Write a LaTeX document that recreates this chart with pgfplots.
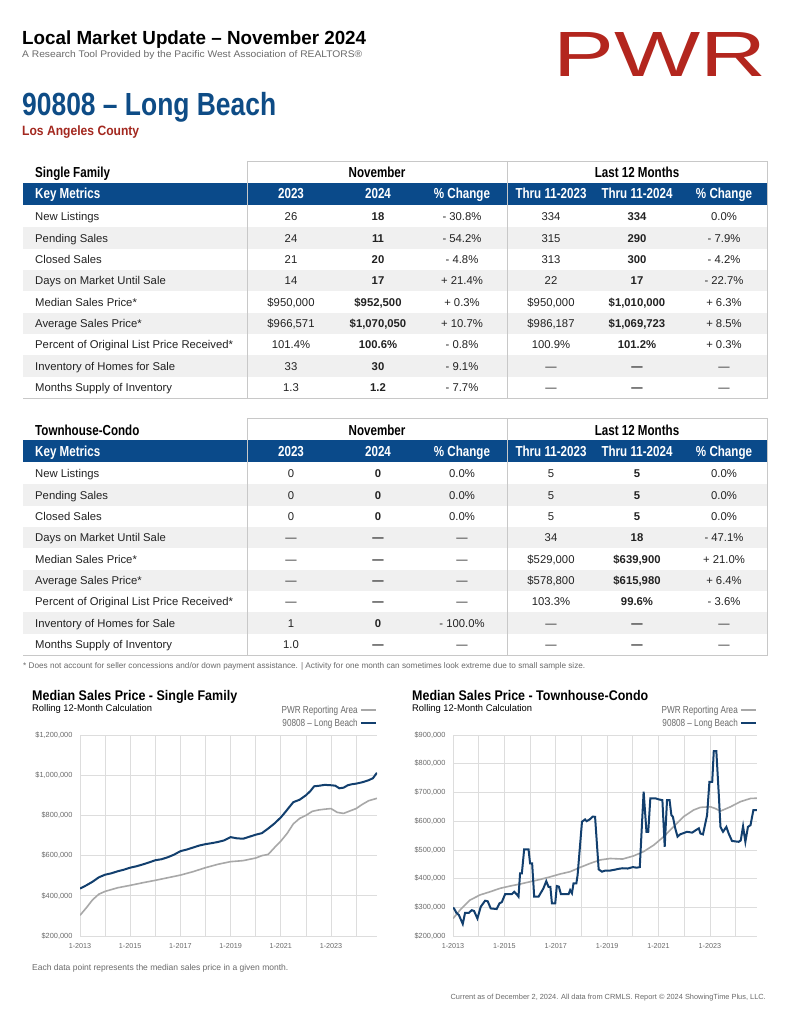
\documentclass[border=0pt]{standalone}
\usepackage{fontspec}
\setmainfont{Liberation Sans}
\newfontfamily\cond[FakeStretch=0.80]{Liberation Sans}
\usepackage{graphicx}
\usepackage{pgfplots}
\pgfplotsset{compat=1.18}
\definecolor{pwrred}{HTML}{B3261E}
\definecolor{lbred}{HTML}{A3281F}
\definecolor{navy}{HTML}{0E4C86}
\definecolor{band}{HTML}{0A4A8A}
\definecolor{rowgray}{HTML}{F0F0F0}
\definecolor{rule}{HTML}{C8C8C8}
\definecolor{gridc}{HTML}{DDDDDD}
\definecolor{lineblue}{HTML}{123F6E}
\definecolor{linegray}{HTML}{A8A8A8}
\definecolor{subgray}{HTML}{6A6A6A}
\definecolor{txt}{HTML}{222222}
\newcommand{\fs}[1]{\fontsize{#1}{#1}\selectfont}
\newcommand{\hfont}{\fs{14.5}\cond\bfseries}
\newcommand{\rfont}{\fs{11.3}}
\newcommand{\tframe}[1]{%
  \fill[band] (23,183) rectangle (767,205);
  \foreach \i in {1,3,5,7} {\fill[rowgray] (23,{206+21.333*\i}) rectangle (767,{206+21.333*(\i+1)});}
  \draw[rule,line width=0.8pt] (247,161) -- (767,161) -- (767,398) -- (23,398);
  \draw[rule,line width=0.8pt] (247,161) -- (247,398) (507,161) -- (507,398);
  \node[anchor=base west,inner sep=0] at (35,178) {\hfont #1};
  \node[anchor=base,inner sep=0] at (377,178) {\hfont November};
  \node[anchor=base,inner sep=0] at (637,178) {\hfont Last 12 Months};
  \node[anchor=base west,inner sep=0,text=white] at (35,199) {\hfont Key Metrics};
  \node[anchor=base,inner sep=0,text=white] at (291,199) {\hfont 2023};
  \node[anchor=base,inner sep=0,text=white] at (378,199) {\hfont 2024};
  \node[anchor=base,inner sep=0,text=white] at (462,199) {\hfont \% Change};
  \node[anchor=base,inner sep=0,text=white] at (551,199) {\hfont Thru 11-2023};
  \node[anchor=base,inner sep=0,text=white] at (637,199) {\hfont Thru 11-2024};
  \node[anchor=base,inner sep=0,text=white] at (724,199) {\hfont \% Change};
}
\newcommand{\trow}[8]{%
  \node[anchor=base west,inner sep=0,text=txt] at (35,#1) {\rfont #2};
  \node[anchor=base,inner sep=0,text=txt] at (291,#1) {\rfont #3};
  \node[anchor=base,inner sep=0,text=txt] at (378,#1) {\rfont\bfseries #4};
  \node[anchor=base,inner sep=0,text=txt] at (462,#1) {\rfont #5};
  \node[anchor=base,inner sep=0,text=txt] at (551,#1) {\rfont #6};
  \node[anchor=base,inner sep=0,text=txt] at (637,#1) {\rfont\bfseries #7};
  \node[anchor=base,inner sep=0,text=txt] at (724,#1) {\rfont #8};
}
\pgfplotsset{
  pwrchart/.style={
    scale only axis, height=201pt,
    xmin=2013, xmax=2024.833,
    xtick={2013,2015,2017,2019,2021,2023},
    xticklabels={1-2013,1-2015,1-2017,1-2019,1-2021,1-2023},
    minor xtick={2014,2016,2018,2020,2022,2024},
    grid=both,
    major grid style={draw=gridc,line width=0.7pt},
    minor grid style={draw=gridc,line width=0.7pt},
    axis line style={draw=none},
    major tick length=0pt, minor tick length=0pt,
    tick style={draw=none},
    xticklabel style={font=\fs{7.2}, text=subgray, yshift=-4pt},
    yticklabel style={font=\fs{7.4}, text=subgray, xshift=-4pt},
    legend plot pos=right,
    legend cell align=right,
    legend image code/.code={\draw[##1, line width=2pt] (0pt,0pt) -- (15pt,0pt);},
    legend style={at={(1,1)}, anchor=south east, draw=none, fill=none,
      font=\fs{10.2}\cond, text=subgray, yshift=5pt, inner sep=0pt,
      row sep=0pt, /tikz/every even column/.append style={column sep=4pt}},
  }
}
\begin{document}
\begin{tikzpicture}
\begin{scope}[x=1pt,y=-1pt]
\fill[white] (0,0) rectangle (791,1024);
% header
\node[anchor=base west,inner sep=0] at (22,45) {\resizebox{344pt}{\height}{\fs{19}\bfseries Local Market Update – November 2024}};
\node[anchor=base west,inner sep=0,text=subgray] at (22,58) {\resizebox{340pt}{\height}{\fs{9.6}A Research Tool Provided by the Pacific West Association of REALTORS®}};
\node[anchor=base west,inner sep=0,text=pwrred] at (553,77) {\resizebox{213pt}{44pt}{\fs{70}PWR}};
\node[anchor=base west,inner sep=0,text=navy] at (22,116) {\resizebox{254pt}{\height}{\fs{32}\bfseries 90808 – Long Beach}};
\node[anchor=base west,inner sep=0,text=lbred] at (22,136) {\resizebox{117pt}{\height}{\fs{13.5}\bfseries Los Angeles County}};
% table 1
\tframe{Single Family}
\trow{220.7}{New Listings}{26}{18}{- 30.8\%}{334}{334}{0.0\%}
\trow{242.0}{Pending Sales}{24}{11}{- 54.2\%}{315}{290}{- 7.9\%}
\trow{263.3}{Closed Sales}{21}{20}{- 4.8\%}{313}{300}{- 4.2\%}
\trow{284.7}{Days on Market Until Sale}{14}{17}{+ 21.4\%}{22}{17}{- 22.7\%}
\trow{306.0}{Median Sales Price*}{\$950,000}{\$952,500}{+ 0.3\%}{\$950,000}{\$1,010,000}{+ 6.3\%}
\trow{327.3}{Average Sales Price*}{\$966,571}{\$1,070,050}{+ 10.7\%}{\$986,187}{\$1,069,723}{+ 8.5\%}
\trow{348.7}{Percent of Original List Price Received*}{101.4\%}{100.6\%}{- 0.8\%}{100.9\%}{101.2\%}{+ 0.3\%}
\trow{370.0}{Inventory of Homes for Sale}{33}{30}{- 9.1\%}{—}{—}{—}
\trow{391.3}{Months Supply of Inventory}{1.3}{1.2}{- 7.7\%}{—}{—}{—}
% table 2
\begin{scope}[yshift=-257pt]
\tframe{Townhouse-Condo}
\trow{220.7}{New Listings}{0}{0}{0.0\%}{5}{5}{0.0\%}
\trow{242.0}{Pending Sales}{0}{0}{0.0\%}{5}{5}{0.0\%}
\trow{263.3}{Closed Sales}{0}{0}{0.0\%}{5}{5}{0.0\%}
\trow{284.7}{Days on Market Until Sale}{—}{—}{—}{34}{18}{- 47.1\%}
\trow{306.0}{Median Sales Price*}{—}{—}{—}{\$529,000}{\$639,900}{+ 21.0\%}
\trow{327.3}{Average Sales Price*}{—}{—}{—}{\$578,800}{\$615,980}{+ 6.4\%}
\trow{348.7}{Percent of Original List Price Received*}{—}{—}{—}{103.3\%}{99.6\%}{- 3.6\%}
\trow{370.0}{Inventory of Homes for Sale}{1}{0}{- 100.0\%}{—}{—}{—}
\trow{391.3}{Months Supply of Inventory}{1.0}{—}{—}{—}{—}{—}
\end{scope}
\node[anchor=base west,inner sep=0,text=subgray] at (23,668) {\fs{8.2}* Does not account for seller concessions and/or down payment assistance. | Activity for one month can sometimes look extreme due to small sample size.};
% chart titles
\node[anchor=base west,inner sep=0] at (32,700) {\resizebox{205pt}{\height}{\fs{14}\bfseries Median Sales Price - Single Family}};
\node[anchor=base west,inner sep=0] at (32,711) {\resizebox{120pt}{\height}{\fs{9.6}Rolling 12-Month Calculation}};
\node[anchor=base west,inner sep=0] at (412,700) {\resizebox{236pt}{\height}{\fs{14}\bfseries Median Sales Price - Townhouse-Condo}};
\node[anchor=base west,inner sep=0] at (412,711) {\resizebox{120pt}{\height}{\fs{9.6}Rolling 12-Month Calculation}};
\node[anchor=base west,inner sep=0,text=subgray] at (32,970) {\fs{8.5}Each data point represents the median sales price in a given month.};
\node[anchor=base east,inner sep=0,text=subgray] at (766,999) {\fs{7.4}Current as of December 2, 2024. All data from CRMLS. Report © 2024 ShowingTime Plus, LLC.};
\end{scope}

\begin{axis}[pwrchart, at={(80pt,-936pt)}, anchor=south west, width=297pt,
  ymin=200, ymax=1200, ytick={200,400,600,800,1000,1200},
  yticklabels={{\$200,000},{\$400,000},{\$600,000},{\$800,000},{\$1,000,000},{\$1,200,000}}]
\addplot[linegray, line width=1.6pt] coordinates {
(2013.00,303) (2013.25,340) (2013.50,380) (2013.75,408) (2014.00,422) (2014.50,440)
(2015.00,452) (2015.50,465) (2016.00,477) (2016.50,490) (2017.00,503) (2017.50,520)
(2018.00,540) (2018.50,557) (2019.00,570) (2019.50,575) (2020.00,588) (2020.25,600)
(2020.50,606) (2020.75,640) (2021.00,672) (2021.25,710) (2021.50,758) (2021.75,785)
(2022.00,800) (2022.25,820) (2022.50,827) (2022.75,831) (2023.00,834) (2023.25,815)
(2023.50,810) (2023.75,822) (2024.00,834) (2024.25,855) (2024.50,873) (2024.83,885)};
\addlegendentry{PWR Reporting Area}
\addplot[lineblue, line width=2pt] coordinates {
(2013.00,436) (2013.25,452) (2013.50,470) (2013.75,492) (2014.00,505) (2014.25,512)
(2014.50,522) (2014.75,530) (2015.00,540) (2015.25,547) (2015.50,556) (2015.75,566)
(2016.00,577) (2016.25,582) (2016.50,592) (2016.75,605) (2017.00,622) (2017.25,630)
(2017.50,640) (2017.75,650) (2018.00,657) (2018.25,662) (2018.50,668) (2018.75,676)
(2019.00,692) (2019.25,686) (2019.50,684) (2019.75,694) (2020.00,704) (2020.25,712)
(2020.50,735) (2020.75,760) (2021.00,790) (2021.17,815) (2021.33,840) (2021.50,866)
(2021.75,878) (2022.00,900) (2022.17,920) (2022.33,945) (2022.50,947) (2022.75,952)
(2023.00,950) (2023.17,948) (2023.33,935) (2023.50,938) (2023.67,950) (2023.83,955)
(2024.00,958) (2024.25,965) (2024.50,975) (2024.67,985) (2024.83,1012)};
\addlegendentry{90808 – Long Beach}
\end{axis}

\begin{axis}[pwrchart, at={(453pt,-936pt)}, anchor=south west, width=304pt,
  ymin=200, ymax=900, ytick={200,300,400,500,600,700,800,900},
  yticklabels={{\$200,000},{\$300,000},{\$400,000},{\$500,000},{\$600,000},{\$700,000},{\$800,000},{\$900,000}}]
\addplot[linegray, line width=1.6pt] coordinates {
(2013.00,261) (2013.27,290) (2013.66,325) (2014.05,343) (2014.44,354) (2014.83,366)
(2015.22,374) (2015.61,381) (2016.00,389) (2016.39,397) (2016.78,406) (2017.17,416)
(2017.56,424) (2017.95,439) (2018.34,453) (2018.73,465) (2019.12,470) (2019.60,468)
(2020.03,479) (2020.42,494) (2020.82,517) (2021.20,546) (2021.59,581) (2021.98,616)
(2022.37,639) (2022.63,648) (2023.02,650) (2023.21,644) (2023.41,635) (2023.80,650)
(2024.19,668) (2024.58,679) (2024.83,680)};
\addlegendentry{PWR Reporting Area}
\addplot[lineblue, line width=2pt] coordinates {
(2013.00,298) (2013.04,296) (2013.13,281) (2013.23,273) (2013.38,242) (2013.47,281)
(2013.62,281) (2013.73,290) (2013.82,287) (2013.95,261) (2014.08,302) (2014.25,323)
(2014.35,321) (2014.47,296) (2014.70,294) (2014.81,314) (2014.90,318) (2015.03,346)
(2015.29,346) (2015.38,354) (2015.47,346) (2015.55,337) (2015.61,418) (2015.68,418)
(2015.77,502) (2015.94,502) (2016.00,453) (2016.08,453) (2016.16,337) (2016.33,337)
(2016.52,366) (2016.63,391) (2016.72,371) (2016.79,371) (2016.85,314) (2016.98,314)
(2017.04,374) (2017.12,372) (2017.20,346) (2017.50,346) (2017.56,360) (2017.63,349)
(2017.69,383) (2017.80,383) (2017.85,412) (2018.02,598) (2018.14,606) (2018.20,600)
(2018.32,606) (2018.44,616) (2018.53,615) (2018.60,523) (2018.67,432) (2018.80,424)
(2018.93,428) (2019.12,428) (2019.30,431) (2019.45,434) (2019.60,436) (2019.80,435)
(2020.00,440) (2020.15,438) (2020.27,440) (2020.42,703) (2020.53,563) (2020.60,563)
(2020.68,679) (2020.90,679) (2021.00,676) (2021.15,673) (2021.24,511) (2021.33,673)
(2021.43,673) (2021.50,621) (2021.56,615) (2021.65,575) (2021.74,546) (2021.84,554)
(2022.11,563) (2022.31,560) (2022.44,568) (2022.57,575) (2022.63,557) (2022.73,554)
(2022.89,621) (2022.98,737) (2023.09,737) (2023.15,844) (2023.25,844) (2023.35,685)
(2023.41,580) (2023.51,563) (2023.64,580) (2023.73,557) (2023.86,531) (2024.12,528)
(2024.20,533) (2024.29,582) (2024.38,528) (2024.48,580) (2024.58,586) (2024.69,638)
(2024.83,638)};
\addlegendentry{90808 – Long Beach}
\end{axis}
\end{tikzpicture}
\end{document}
